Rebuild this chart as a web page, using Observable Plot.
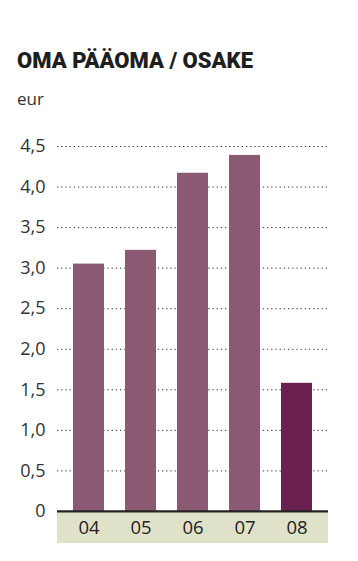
<!DOCTYPE html>
<html>
<head>
<meta charset="utf-8">
<script src="https://cdn.jsdelivr.net/npm/d3@7"></script>
<script src="https://cdn.jsdelivr.net/npm/@observablehq/plot@0.6"></script>
<style>
  html, body { margin: 0; padding: 0; background: #fff; }
  body { width: 358px; height: 561px; position: relative; overflow: hidden; font-family: "Open Sans", sans-serif; color: #222; }
  #title { position: absolute; left: 17px; top: 50px; font-family: Roboto, sans-serif; font-size: 22px; line-height: 22px; font-weight: 900; white-space: nowrap; color: #1e1e1e; }
  #sub { position: absolute; left: 17px; top: 90px; font-size: 17px; line-height: 17px; color: #333; }
  #chart { position: absolute; left: 0; top: 125px; }
</style>
</head>
<body>
<div id="title">OMA PÄÄOMA / OSAKE</div>
<div id="sub">eur</div>
<div id="chart"></div>
<script>
const years = ["04", "05", "06", "07", "08"];
const values = [3.05, 3.22, 4.17, 4.39, 1.58];
const yTicks = [0, 0.5, 1, 1.5, 2, 2.5, 3, 3.5, 4, 4.5];
const barColors = ["#8a5a72", "#8a5a72", "#8a5a72", "#8a5a72", "#6a2150"];

const data = years.map((y, i) => ({year: y, value: values[i], color: barColors[i]}));
const fmt = d => d === 0 ? "0" : d3.format(".1f")(d).replace(".", ",");

const chart = Plot.plot({
  width: 358,
  height: 436,
  marginTop: 21,
  marginBottom: 18,
  marginLeft: 57,
  marginRight: 30,
  style: {fontFamily: "Open Sans, sans-serif", background: "transparent"},
  x: {domain: years, paddingInner: 0.4, paddingOuter: 0.3, axis: null},
  y: {domain: [-0.395, 4.5], axis: null},
  marks: [
    Plot.rect([0], {y1: -0.395, y2: 0, fill: "#e0e1c9"}),
    Plot.ruleY(yTicks.filter(d => d > 0), {stroke: "#333", strokeWidth: 1, strokeDasharray: "1.3,2.9"}),
    Plot.barY(data, {x: "year", y: "value", fill: "color"}),
    Plot.ruleY([0], {stroke: "#222", strokeWidth: 2.2}),
    Plot.axisY(yTicks, {tickSize: 0, tickPadding: 12, tickFormat: fmt, fontSize: 18, fill: "#333", label: null}),
    Plot.text(data, {x: "year", y: -0.2, text: "year", fontSize: 18.5, fill: "#222"})
  ]
});
document.getElementById("chart").appendChild(chart);
</script>
</body>
</html>
